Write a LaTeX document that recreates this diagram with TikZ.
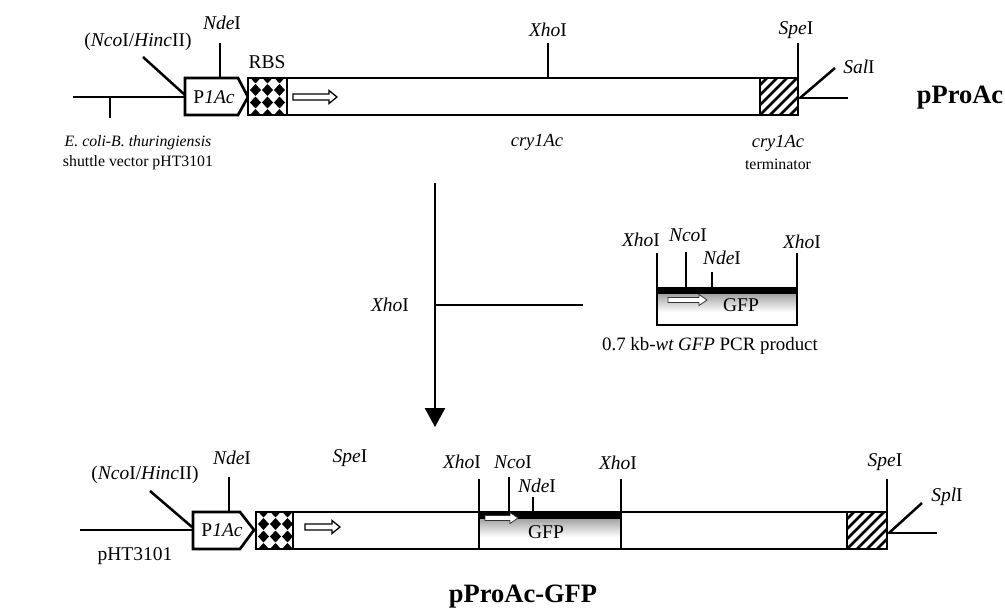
\documentclass[tikz,border=0pt]{standalone}
\usepackage{fontspec}
\setmainfont{Liberation Serif}
\usetikzlibrary{arrows.meta}
\tikzset{
  dna/.style={line width=2.7pt, line join=miter},
  tick/.style={line width=2.5pt},
  lbl/.style={font=\fontsize{19.5}{22}\selectfont, inner sep=0pt},
  desc/.style={font=\fontsize{15.8}{18}\selectfont, inner sep=0pt},
  ttl/.style={font=\fontsize{26.5}{30}\selectfont\bfseries, inner sep=0pt},
  harrow/.style={line width=1.3pt, fill=white},
  garrow/.style={line width=0.8pt, draw=gray!40!black, fill=white},
}
\newcommand\hollowarr[3]{%
  \draw[harrow] (#1,#3-3) -- (#2-8,#3-3) -- (#2-8,#3-6.5) -- (#2,#3) -- (#2-8,#3+6.5) -- (#2-8,#3+3) -- (#1,#3+3) -- cycle;}
\newcommand\rbsbox[4]{%
  \begin{scope}
    \clip (#1,#2) rectangle (#3,#4);
    \fill[white] (#1,#2) rectangle (#3,#4);
    \foreach \i in {-1,...,3} \foreach \j in {-1,...,2} {
      \fill[black] ({#1+7.5+12*\i},{#2+12+12.5*\j}) +(-5.6,0) -- +(0,-5.9) -- +(5.6,0) -- +(0,5.9) -- cycle;}
  \end{scope}
  \draw[dna] (#1,#2) rectangle (#3,#4);}
\newcommand\hatchbox[4]{%
  \begin{scope}
    \clip (#1,#2) rectangle (#3,#4);
    \foreach \k in {-4,...,4} \draw[line width=2.5pt] ({#1+\k*10},#4) -- ++(40,-40);
  \end{scope}
  \draw[dna] (#1,#2) rectangle (#3,#4);}
\newcommand\gfpfill[4]{%
  \fill[white] (#1,#2) rectangle (#3,#4);
  \shade[top color=gray!75, bottom color=white] (#1,#2+6) rectangle (#3,#2+25);
  \fill[black] (#1,#2) rectangle (#3,#2+7);}
\begin{document}
\begin{tikzpicture}[x=1pt,y=-1pt]
\useasboundingbox (0,0) rectangle (1005,610);

% ================= top construct: pProAc =================
\coordinate (tL) at (73,97);
\coordinate (tP) at (185,97);
\draw[dna] (tL) -- (tP);
\coordinate (tT1) at (110,97); \coordinate (tT2) at (110,118);
\draw[tick] (tT1) -- (tT2);
% promoter
\draw[dna, fill=white] (185,78) -- (238,78) -- (248,97) -- (238,115) -- (185,115) -- cycle;
\node[lbl] (tprom) at (214,97) {P\textit{1Ac}};
% RBS
\rbsbox{248}{78}{287}{115}
\node[lbl] (trbs) at (267,62) {RBS};
% cry1Ac body
\draw[dna] (287,78) rectangle (760,115);
\hatchbox{760}{78}{798}{115}
\hollowarr{293}{337}{97}
% sites
\node[lbl] (tnco) at (138,42) {(\textit{Nco}I/\textit{Hinc}II)};
\coordinate (tncoA) at (143,57); \coordinate (tncoB) at (185,95);
\draw[tick] (tncoA) -- (tncoB);
\node[lbl] (tnde) at (222,23) {\textit{Nde}I};
\coordinate (tndeA) at (220,43); \coordinate (tndeB) at (220,78);
\draw[tick] (tndeA) -- (tndeB);
\node[lbl] (txho) at (548,30) {\textit{Xho}I};
\coordinate (txhoA) at (548,43); \coordinate (txhoB) at (548,78);
\draw[tick] (txhoA) -- (txhoB);
\node[lbl] (tspe) at (796,30) {\textit{Spe}I};
\coordinate (tspeA) at (798,43); \coordinate (tspeB) at (798,115);
\draw[dna] (tspeA) -- (tspeB);
\coordinate (tR0) at (798,98); \coordinate (tR1) at (848,98);
\draw[dna] (tR0) -- (tR1);
\coordinate (tsalA) at (800,98); \coordinate (tsalB) at (835,68);
\draw[tick] (tsalA) -- (tsalB);
\node[lbl] (tsal) at (859,67) {\textit{Sal}I};
\node[ttl] (tname) at (960,98) {pProAc};
\node[desc] (tecoli) at (138,143) {\textit{E. coli-B. thuringiensis}};
\node[desc] (tshuttle) at (138,163) {shuttle vector pHT3101};
\node[lbl, font=\fontsize{18.5}{21}\selectfont] (tcry) at (537,142) {\textit{cry1Ac}};
\node[lbl, font=\fontsize{18.5}{21}\selectfont] (tterm1) at (778,143) {\textit{cry1Ac}};
\node[desc] (tterm2) at (778,164) {terminator};

% ================= middle: XhoI cloning =================
\coordinate (vA) at (435,183);
\coordinate (vM) at (435,305);
\coordinate (vB) at (435,427);
\draw[line width=2.5pt, -{Triangle[length=19pt,width=20pt]}] (vA) -- (vB);
\coordinate (hB) at (583,305);
\draw[dna] (vM) -- (hB);
\node[lbl] (mxho) at (390,305) {\textit{Xho}I};
% PCR product
\gfpfill{657}{287}{797}{325}
\draw[dna] (657,253) -- (657,325) -- (797,325) -- (797,253);
\draw[tick] (686,252) -- (686,287);
\draw[tick] (712,272) -- (712,287);
\draw[garrow] (668,297.5) -- (699,297.5) -- (699,294.5) -- (707,300) -- (699,305.5) -- (699,302.5) -- (668,302.5) -- cycle;
\node[lbl] (pgfp) at (741,305) {GFP};
\node[lbl] (pxho1) at (641,240) {\textit{Xho}I};
\node[lbl] (pnco) at (688,235) {\textit{Nco}I};
\node[lbl] (pnde) at (722,258) {\textit{Nde}I};
\node[lbl] (pxho2) at (802,242) {\textit{Xho}I};
\node[lbl, font=\fontsize{18.9}{21}\selectfont] (pcr) at (710,346) {0.7 kb-\textit{wt GFP} PCR product};

% ================= bottom construct: pProAc-GFP =================
\coordinate (bL) at (80,530);
\coordinate (bP) at (193,530);
\draw[dna] (bL) -- (bP);
\draw[dna, fill=white] (193,512) -- (240,512) -- (254,530) -- (240,549) -- (193,549) -- cycle;
\node[lbl] (bprom) at (222,530) {P\textit{1Ac}};
\rbsbox{256}{512}{293}{549}
\draw[dna] (293,512) rectangle (847,549);
\gfpfill{479}{512}{621}{549}
\draw[dna] (479,512) rectangle (621,549);
\hatchbox{847}{512}{887}{549}
\hollowarr{305}{340}{527}
\draw[garrow] (485,515.5) -- (510,515.5) -- (510,512.5) -- (518,518) -- (510,523.5) -- (510,520.5) -- (485,520.5) -- cycle;
\node[lbl] (bgfp) at (546,532) {GFP};
% sites
\node[lbl] (bnco) at (145,475) {(\textit{Nco}I/\textit{Hinc}II)};
\coordinate (bncoA) at (150,491); \coordinate (bncoB) at (192,527);
\draw[tick] (bncoA) -- (bncoB);
\node[lbl] (bnde) at (232,458) {\textit{Nde}I};
\draw[tick] (229,477) -- (229,512);
\node[lbl] (bspe1) at (350,458) {\textit{Spe}I};
\node[lbl] (bxho1) at (462,462) {\textit{Xho}I};
\draw[dna] (479,479) -- (479,549);
\node[lbl] (bnco2) at (513,462) {\textit{Nco}I};
\draw[tick] (509,477) -- (509,512);
\node[lbl] (bnde2) at (537,486) {\textit{Nde}I};
\draw[tick] (533,497) -- (533,512);
\node[lbl] (bxho2) at (618,463) {\textit{Xho}I};
\draw[dna] (621,479) -- (621,549);
\node[lbl] (bspe2) at (885,462) {\textit{Spe}I};
\draw[dna] (887,479) -- (887,549);
\draw[dna] (887,533) -- (937,533);
\draw[tick] (889,533) -- (922,503);
\node[lbl] (bspl) at (947,497) {\textit{Spl}I};
\node[lbl] (bpht) at (135,556) {pHT3101};
\node[ttl] (bname) at (523,597) {pProAc-GFP};
\end{tikzpicture}
\end{document}
